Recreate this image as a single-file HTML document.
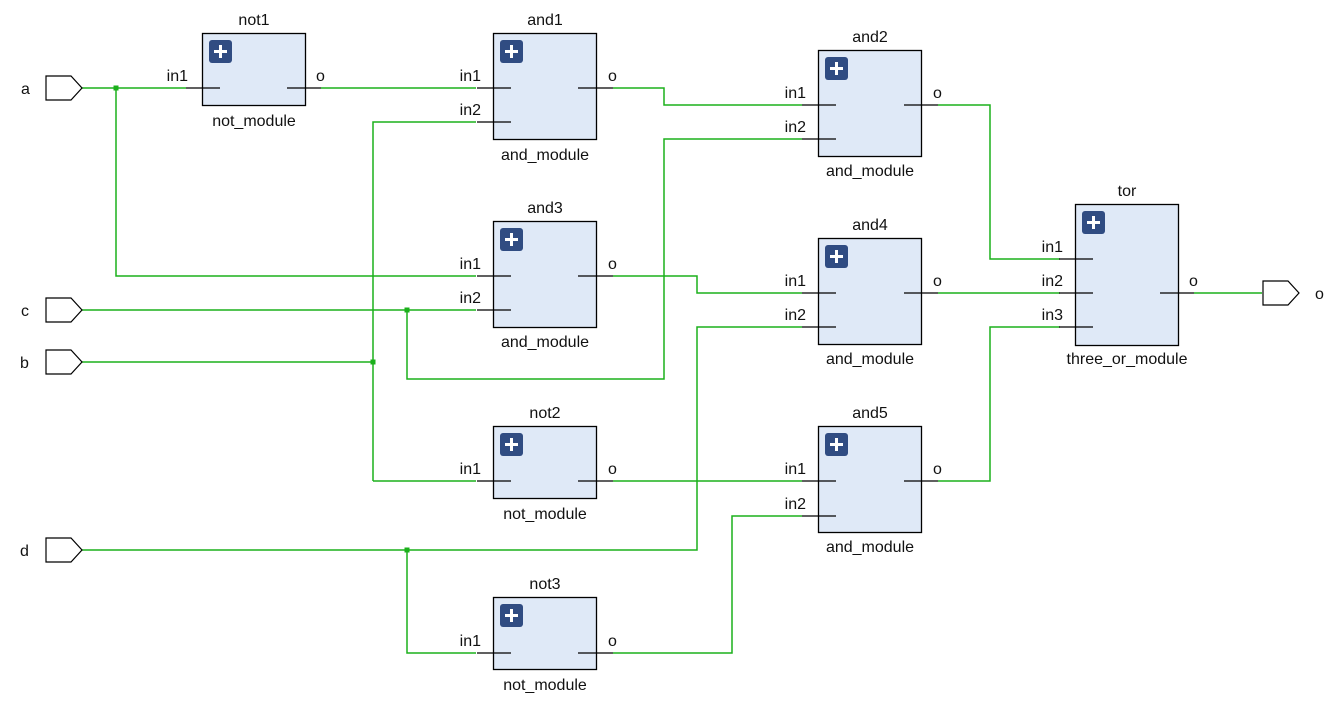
<!DOCTYPE html>
<html><head><meta charset="utf-8"><style>
html,body{margin:0;padding:0;background:#fff;}
svg{display:block;}
text{font-family:"Liberation Sans",sans-serif;font-size:16px;fill:#111;}
.w{stroke:#1bb01b;stroke-width:1.5;fill:none;}
.p{stroke:#000;stroke-width:1.2;fill:none;}
.b{fill:#dfe9f7;stroke:#000;stroke-width:1.3;}
.ic{fill:#304c82;}
.pt{fill:#fff;stroke:#000;stroke-width:1.2;}
.j{fill:#1bb01b;}
</style></head><body>
<svg width="1337" height="712" viewBox="0 0 1337 712" xmlns="http://www.w3.org/2000/svg">
<!-- wires -->
<g class="w">
<polyline points="82,88 186,88"/>
<polyline points="116,88 116,276 476,276"/>
<polyline points="321,88 476,88"/>
<polyline points="373,481 373,122 476,122"/>
<polyline points="373,481 476,481"/>
<polyline points="82,362 373,362"/>
<polyline points="82,310 476,310"/>
<polyline points="407,310 407,379 664,379 664,139 802,139"/>
<polyline points="613,88 664,88 664,105 802,105"/>
<polyline points="613,276 697,276 697,293 802,293"/>
<polyline points="82,550 697,550 697,327 802,327"/>
<polyline points="407,550 407,653 476,653"/>
<polyline points="613,481 802,481"/>
<polyline points="613,653 732,653 732,516 802,516"/>
<polyline points="938,105 990,105 990,259 1060,259"/>
<polyline points="938,293 1060,293"/>
<polyline points="938,481 990,481 990,327 1060,327"/>
<polyline points="1194,293 1262,293"/>
</g>
<g class="j">
<rect x="113.5" y="85.5" width="5" height="5"/>
<rect x="370.5" y="359.5" width="5" height="5"/>
<rect x="404.5" y="307.5" width="5" height="5"/>
<rect x="404.5" y="547.5" width="5" height="5"/>
</g>
<!-- ports -->
<g class="pt">
<polygon points="46,76 71,76 82,88 71,100 46,100"/>
<polygon points="46,298 71,298 82,310 71,322 46,322"/>
<polygon points="46,350 71,350 82,362 71,374 46,374"/>
<polygon points="46,538 71,538 82,550 71,562 46,562"/>
<polygon points="1263,281 1288,281 1299,293 1288,305 1263,305"/>
</g>
<text x="21" y="94">a</text>
<text x="21" y="316">c</text>
<text x="20" y="368">b</text>
<text x="20" y="556">d</text>
<text x="1315" y="299">o</text>

<!-- boxes -->
<g>
<!-- not1 -->
<rect class="b" x="202.5" y="33.5" width="103" height="72"/>
<rect class="ic" x="209" y="40" width="23" height="23" rx="3"/>
<line class="p" x1="186" y1="88" x2="220" y2="88"/><line class="p" x1="287" y1="88" x2="321" y2="88"/>
<text x="254" y="25" text-anchor="middle">not1</text><text x="254" y="126" text-anchor="middle">not_module</text>
<text x="188" y="81" text-anchor="end">in1</text><text x="316" y="81">o</text>

<!-- and1 -->
<rect class="b" x="493.5" y="33.5" width="103" height="106"/>
<rect class="ic" x="500" y="40" width="23" height="23" rx="3"/>
<line class="p" x1="477" y1="88" x2="511" y2="88"/><line class="p" x1="477" y1="122" x2="511" y2="122"/><line class="p" x1="578" y1="88" x2="613" y2="88"/>
<text x="545" y="25" text-anchor="middle">and1</text><text x="545" y="160" text-anchor="middle">and_module</text>
<text x="481" y="81" text-anchor="end">in1</text><text x="481" y="115" text-anchor="end">in2</text><text x="608" y="81">o</text>

<!-- and2 -->
<rect class="b" x="818.5" y="50.5" width="103" height="106"/>
<rect class="ic" x="825" y="57" width="23" height="23" rx="3"/>
<line class="p" x1="802" y1="105" x2="836" y2="105"/><line class="p" x1="802" y1="139" x2="836" y2="139"/><line class="p" x1="904" y1="105" x2="938" y2="105"/>
<text x="870" y="42" text-anchor="middle">and2</text><text x="870" y="176" text-anchor="middle">and_module</text>
<text x="806" y="98" text-anchor="end">in1</text><text x="806" y="132" text-anchor="end">in2</text><text x="933" y="98">o</text>

<!-- and3 -->
<rect class="b" x="493.5" y="221.5" width="103" height="106"/>
<rect class="ic" x="500" y="228" width="23" height="23" rx="3"/>
<line class="p" x1="477" y1="276" x2="511" y2="276"/><line class="p" x1="477" y1="310" x2="511" y2="310"/><line class="p" x1="578" y1="276" x2="613" y2="276"/>
<text x="545" y="213" text-anchor="middle">and3</text><text x="545" y="347" text-anchor="middle">and_module</text>
<text x="481" y="269" text-anchor="end">in1</text><text x="481" y="303" text-anchor="end">in2</text><text x="608" y="269">o</text>

<!-- and4 -->
<rect class="b" x="818.5" y="238.5" width="103" height="106"/>
<rect class="ic" x="825" y="245" width="23" height="23" rx="3"/>
<line class="p" x1="802" y1="293" x2="836" y2="293"/><line class="p" x1="802" y1="327" x2="836" y2="327"/><line class="p" x1="904" y1="293" x2="938" y2="293"/>
<text x="870" y="230" text-anchor="middle">and4</text><text x="870" y="364" text-anchor="middle">and_module</text>
<text x="806" y="286" text-anchor="end">in1</text><text x="806" y="320" text-anchor="end">in2</text><text x="933" y="286">o</text>

<!-- not2 -->
<rect class="b" x="493.5" y="426.5" width="103" height="72"/>
<rect class="ic" x="500" y="433" width="23" height="23" rx="3"/>
<line class="p" x1="477" y1="481" x2="511" y2="481"/><line class="p" x1="578" y1="481" x2="613" y2="481"/>
<text x="545" y="418" text-anchor="middle">not2</text><text x="545" y="519" text-anchor="middle">not_module</text>
<text x="481" y="474" text-anchor="end">in1</text><text x="608" y="474">o</text>

<!-- and5 -->
<rect class="b" x="818.5" y="426.5" width="103" height="106"/>
<rect class="ic" x="825" y="433" width="23" height="23" rx="3"/>
<line class="p" x1="802" y1="481" x2="836" y2="481"/><line class="p" x1="802" y1="516" x2="836" y2="516"/><line class="p" x1="904" y1="481" x2="938" y2="481"/>
<text x="870" y="418" text-anchor="middle">and5</text><text x="870" y="552" text-anchor="middle">and_module</text>
<text x="806" y="474" text-anchor="end">in1</text><text x="806" y="509" text-anchor="end">in2</text><text x="933" y="474">o</text>

<!-- not3 -->
<rect class="b" x="493.5" y="597.5" width="103" height="72"/>
<rect class="ic" x="500" y="604" width="23" height="23" rx="3"/>
<line class="p" x1="477" y1="653" x2="511" y2="653"/><line class="p" x1="578" y1="653" x2="613" y2="653"/>
<text x="545" y="589" text-anchor="middle">not3</text><text x="545" y="690" text-anchor="middle">not_module</text>
<text x="481" y="646" text-anchor="end">in1</text><text x="608" y="646">o</text>

<!-- tor -->
<rect class="b" x="1075.5" y="204.5" width="103" height="141"/>
<rect class="ic" x="1082" y="211" width="23" height="23" rx="3"/>
<line class="p" x1="1059" y1="259" x2="1093" y2="259"/><line class="p" x1="1059" y1="293" x2="1093" y2="293"/><line class="p" x1="1059" y1="327" x2="1093" y2="327"/><line class="p" x1="1160" y1="293" x2="1194" y2="293"/>
<text x="1127" y="196" text-anchor="middle">tor</text><text x="1127" y="364" text-anchor="middle">three_or_module</text>
<text x="1063" y="252" text-anchor="end">in1</text><text x="1063" y="286" text-anchor="end">in2</text><text x="1063" y="320" text-anchor="end">in3</text><text x="1189" y="286">o</text>
</g>
<!-- plus glyphs -->
<g stroke="#fff" stroke-width="3">
<path d="M220.5,45v13M214,51.5h13"/>
<path d="M511.5,45v13M505,51.5h13"/>
<path d="M836.5,62v13M830,68.5h13"/>
<path d="M511.5,233v13M505,239.5h13"/>
<path d="M836.5,250v13M830,256.5h13"/>
<path d="M511.5,438v13M505,444.5h13"/>
<path d="M836.5,438v13M830,444.5h13"/>
<path d="M511.5,609v13M505,615.5h13"/>
<path d="M1093.5,216v13M1087,222.5h13"/>
</g>
</svg>
</body></html>
